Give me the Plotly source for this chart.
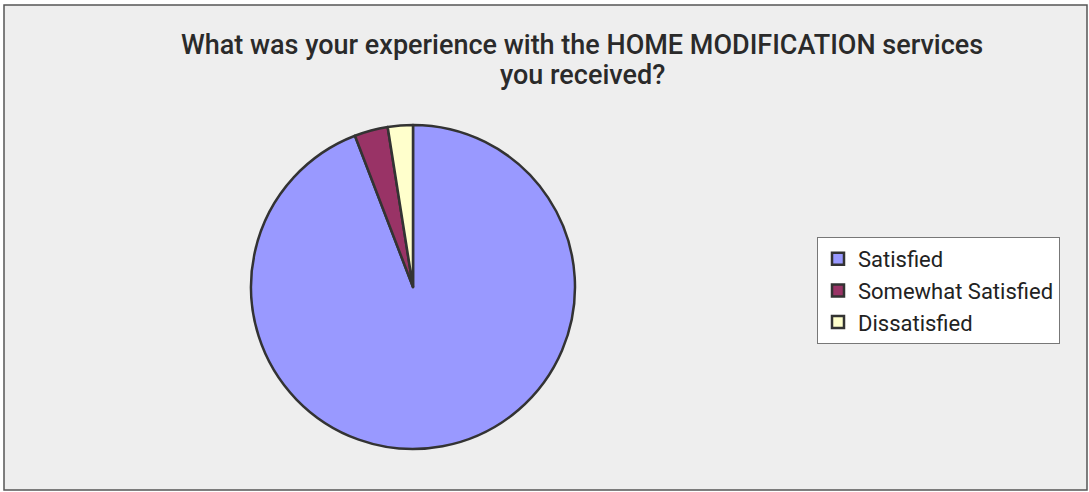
import plotly.graph_objects as go

# Survey responses about home modification services
categories = ["Satisfied", "Somewhat Satisfied", "Dissatisfied"]
counts = [113, 4, 3]
colors = ["#9999FF", "#993366", "#FFFFCC"]

title_lines = [
    "What was your experience with the HOME MODIFICATION services",
    "you received?",
]

FONT = "Roboto, Liberation Sans, Arial, sans-serif"
W, H = 1089, 492

fig = go.Figure(
    go.Pie(
        labels=categories,
        values=counts,
        sort=False,
        direction="clockwise",
        rotation=0,
        textinfo="none",
        hoverinfo="label+value+percent",
        marker=dict(colors=colors, line=dict(color="#333333", width=2.5)),
        domain=dict(x=[0.2305, 0.528], y=[0.0874, 0.746]),
    )
)

# Two-line chart title, placed line by line for tight spacing
title_baselines = [57, 87]
for line, base in zip(title_lines, title_baselines):
    fig.add_annotation(
        text=line,
        xref="paper",
        yref="paper",
        x=582 / W,
        y=1 - (base + 6) / H,
        xanchor="center",
        yanchor="bottom",
        showarrow=False,
        font=dict(size=27, family=FONT, color="#2a2a2a", weight=500),
    )

fig.update_layout(
    width=W,
    height=H,
    margin=dict(l=0, r=0, t=0, b=0),
    paper_bgcolor="white",
    plot_bgcolor="#EEEEEE",
    font=dict(family=FONT, color="#222222"),
    legend=dict(
        x=817 / W,
        y=1 - 237 / H,
        xanchor="left",
        yanchor="top",
        bgcolor="white",
        bordercolor="#777777",
        borderwidth=1,
        font=dict(size=22, family=FONT, color="#222222"),
        itemwidth=30,
    ),
    shapes=[
        dict(
            type="rect",
            xref="paper",
            yref="paper",
            x0=4 / W,
            x1=1087 / W,
            y0=1 - 490 / H,
            y1=1 - 5 / H,
            fillcolor="#EEEEEE",
            line=dict(color="#555555", width=1.5),
            layer="below",
        )
    ],
)

fig.write_html("out.html")
